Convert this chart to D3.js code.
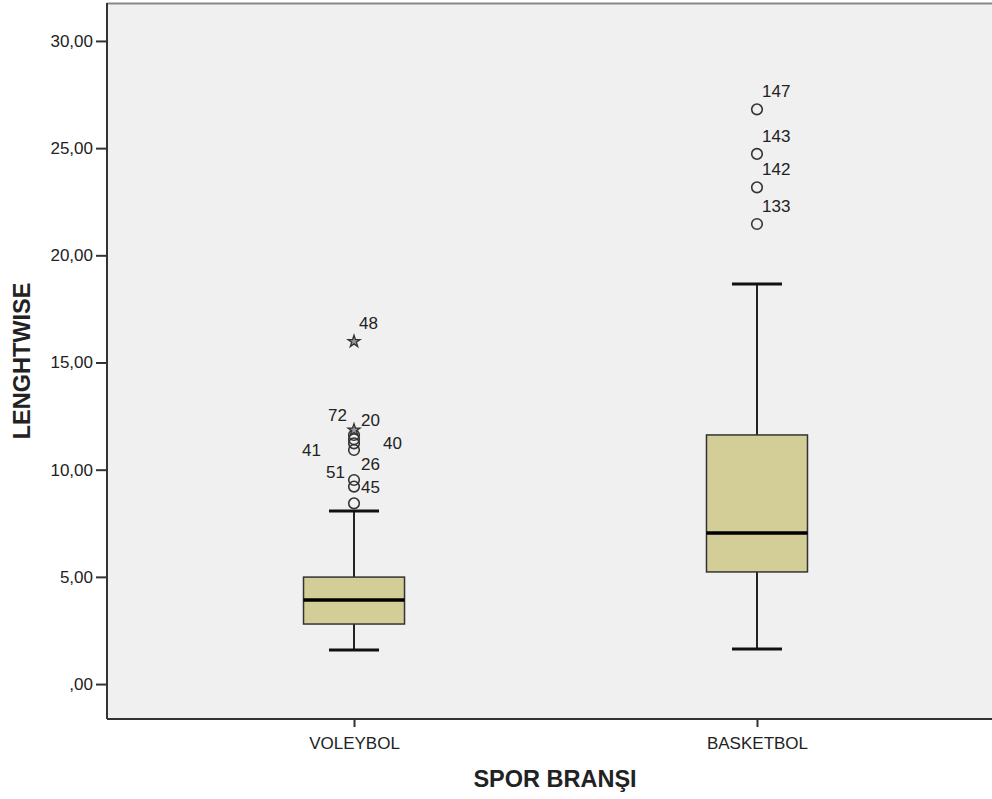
<!DOCTYPE html>
<html>
<head>
<meta charset="utf-8">
<script src="https://cdn.jsdelivr.net/npm/d3@7"></script>
<style>
  body { margin: 0; background: #fff; }
  text { font-family: "Liberation Sans", Arial, sans-serif; fill: #222; }
</style>
</head>
<body>
<div id="chart"></div>
<script>
// box plot data
var categories = ["VOLEYBOL", "BASKETBOL"];
var lowerWhisker = [1.59, 1.63];
var q1 = [2.80, 5.23];
var median = [3.92, 7.05];
var q3 = [4.99, 11.62];
var upperWhisker = [8.07, 18.66];

// outliers (circles) and extremes (stars)
var voleybolOutliers = [8.43, 9.21, 9.52, 10.92, 11.23, 11.42, 11.62];
var voleybolOutlierIds = ["", "45", "51", "26", "41", "40", "20"];
var voleybolExtremes = [11.85, 15.98];
var voleybolExtremeIds = ["72", "48"];
var basketbolOutliers = [21.46, 23.17, 24.73, 26.81];
var basketbolOutlierIds = ["133", "142", "143", "147"];

var yTicks = [0, 5, 10, 15, 20, 25, 30];

// label placement tweaks (SPSS moves labels around to avoid overlap)
var labelOffsets = {
  "72": [-7, -15, "end"],
  "20": [7, -15, "start"],
  "40": [29, 4, "start"],
  "41": [-33, 7, "end"],
  "26": [7, 14, "start"],
  "51": [-9, -8, "end"],
  "45": [7, 0, "start"]
};

var svgWidth = 992;
var svgHeight = 799;
var margin = { top: 3, left: 107, bottom: 80 };
var plotRight = 1004;
var plotBottom = svgHeight - margin.bottom;

var svg = d3.select("#chart")
  .append("svg")
  .attr("width", svgWidth)
  .attr("height", svgHeight);

var xScale = d3.scalePoint()
  .domain(categories)
  .range([margin.left, plotRight])
  .padding(0.613);

var yScale = d3.scaleLinear()
  .domain([-1.63, 31.77])
  .range([plotBottom, margin.top]);

// plot background
svg.append("rect")
  .attr("x", margin.left)
  .attr("y", margin.top)
  .attr("width", plotRight - margin.left)
  .attr("height", plotBottom - margin.top)
  .attr("fill", "#f0f0f0");

// top border
svg.append("line")
  .attr("x1", margin.left).attr("x2", plotRight)
  .attr("y1", margin.top + 0.5).attr("y2", margin.top + 0.5)
  .attr("stroke", "#888").attr("stroke-width", 2);

// axes
var yAxis = d3.axisLeft(yScale)
  .tickValues(yTicks)
  .tickSize(11)
  .tickPadding(3)
  .tickFormat(function(d) {
    return d === 0 ? ",00" : d3.format(".2f")(d).replace(".", ",");
  });

var xAxis = d3.axisBottom(xScale)
  .tickSize(8)
  .tickPadding(10);

var gy = svg.append("g")
  .attr("transform", `translate(${margin.left}, 0)`)
  .call(yAxis);

var gx = svg.append("g")
  .attr("transform", `translate(0, ${plotBottom})`)
  .call(xAxis);

[gx, gy].forEach(function(g) {
  g.select(".domain").attr("stroke", "#333").attr("stroke-width", 2);
  g.selectAll(".tick line").attr("stroke", "#333").attr("stroke-width", 2);
  g.selectAll(".tick text")
    .attr("font-size", "17px")
    .attr("fill", "#222")
    .attr("font-family", "Liberation Sans, Arial, sans-serif");
});
gy.select(".domain").attr("d", `M0,${margin.top}V${plotBottom}`);
gx.select(".domain").attr("d", `M${margin.left},0H${plotRight}`);

// axis titles
svg.append("text")
  .attr("transform", `translate(30, ${(margin.top + plotBottom) / 2}) rotate(-90)`)
  .attr("text-anchor", "middle")
  .attr("font-size", "23.5px")
  .attr("font-weight", "bold")
  .text("LENGHTWISE");

svg.append("text")
  .attr("x", 555)
  .attr("y", 787)
  .attr("text-anchor", "middle")
  .attr("font-size", "23.5px")
  .attr("font-weight", "bold")
  .text("SPOR BRANŞI");

// boxes
var boxWidth = 101;
var capWidth = 50;
var boxes = categories.map(function(c, i) {
  return { cat: c, lo: lowerWhisker[i], q1: q1[i], med: median[i], q3: q3[i], hi: upperWhisker[i] };
});

var boxGroup = svg.selectAll(".box")
  .data(boxes)
  .enter()
  .append("g")
  .attr("class", "box");

// whiskers
boxGroup.append("line")
  .attr("x1", d => xScale(d.cat)).attr("x2", d => xScale(d.cat))
  .attr("y1", d => yScale(d.hi)).attr("y2", d => yScale(d.q3))
  .attr("stroke", "#222").attr("stroke-width", 2);
boxGroup.append("line")
  .attr("x1", d => xScale(d.cat)).attr("x2", d => xScale(d.cat))
  .attr("y1", d => yScale(d.q1)).attr("y2", d => yScale(d.lo))
  .attr("stroke", "#222").attr("stroke-width", 2);
boxGroup.append("line")
  .attr("x1", d => xScale(d.cat) - capWidth / 2).attr("x2", d => xScale(d.cat) + capWidth / 2)
  .attr("y1", d => yScale(d.hi)).attr("y2", d => yScale(d.hi))
  .attr("stroke", "#111").attr("stroke-width", 3);
boxGroup.append("line")
  .attr("x1", d => xScale(d.cat) - capWidth / 2).attr("x2", d => xScale(d.cat) + capWidth / 2)
  .attr("y1", d => yScale(d.lo)).attr("y2", d => yScale(d.lo))
  .attr("stroke", "#111").attr("stroke-width", 3);

boxGroup.append("rect")
  .attr("x", d => xScale(d.cat) - boxWidth / 2)
  .attr("y", d => yScale(d.q3))
  .attr("width", boxWidth)
  .attr("height", d => yScale(d.q1) - yScale(d.q3))
  .attr("fill", "#d3ce98")
  .attr("stroke", "#333")
  .attr("stroke-width", 1.5);

boxGroup.append("line")
  .attr("x1", d => xScale(d.cat) - boxWidth / 2).attr("x2", d => xScale(d.cat) + boxWidth / 2)
  .attr("y1", d => yScale(d.med)).attr("y2", d => yScale(d.med))
  .attr("stroke", "#000").attr("stroke-width", 3.5);

// outlier points
var points = [];
voleybolOutliers.forEach(function(v, i) {
  points.push({ cat: categories[0], value: v, id: voleybolOutlierIds[i], star: false });
});
voleybolExtremes.forEach(function(v, i) {
  points.push({ cat: categories[0], value: v, id: voleybolExtremeIds[i], star: true });
});
basketbolOutliers.forEach(function(v, i) {
  points.push({ cat: categories[1], value: v, id: basketbolOutlierIds[i], star: false });
});

svg.selectAll(".outlier")
  .data(points.filter(d => !d.star))
  .enter()
  .append("circle")
  .attr("class", "outlier")
  .attr("cx", d => xScale(d.cat))
  .attr("cy", d => yScale(d.value))
  .attr("r", 5.3)
  .attr("fill", "none")
  .attr("stroke", "#333")
  .attr("stroke-width", 1.6);

svg.selectAll(".extreme")
  .data(points.filter(d => d.star))
  .enter()
  .append("path")
  .attr("class", "extreme")
  .attr("transform", d => `translate(${xScale(d.cat)}, ${yScale(d.value)})`)
  .attr("d", d3.symbol().type(d3.symbolStar).size(45))
  .attr("fill", "#999")
  .attr("stroke", "#333")
  .attr("stroke-width", 1.3);

svg.selectAll(".plabel")
  .data(points.filter(d => d.id !== ""))
  .enter()
  .append("text")
  .attr("class", "plabel")
  .attr("x", d => xScale(d.cat) + (labelOffsets[d.id] ? labelOffsets[d.id][0] : 5))
  .attr("y", d => yScale(d.value) + (labelOffsets[d.id] ? labelOffsets[d.id][1] : -18))
  .attr("dy", "0.35em")
  .attr("text-anchor", d => labelOffsets[d.id] ? labelOffsets[d.id][2] : "start")
  .attr("font-size", "17px")
  .text(d => d.id);
</script>
</body>
</html>
